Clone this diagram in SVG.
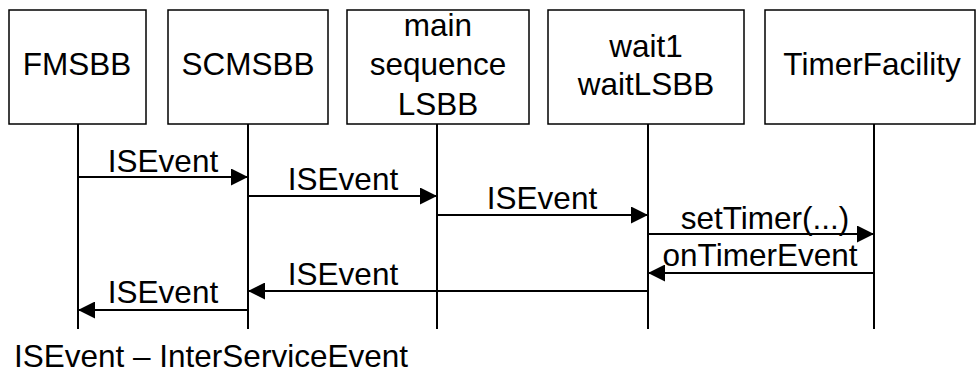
<svg xmlns="http://www.w3.org/2000/svg" width="976" height="379" viewBox="0 0 976 379">
<style>
text{font-family:"Liberation Sans",Arial,sans-serif;font-size:31.5px;fill:#000;text-anchor:middle}
.box{fill:#fff;stroke:#000;stroke-width:1.5}
.life{stroke:#000;stroke-width:2}
.msg{stroke:#000;stroke-width:2;fill:none;marker-end:url(#ah)}
</style>
<defs>
<marker id="ah" viewBox="0 0 17 17" refX="17" refY="8.5" markerWidth="17" markerHeight="17" markerUnits="userSpaceOnUse" orient="auto">
<path d="M0,0 L17,8.5 L0,17 Z" fill="#000"/>
</marker>
</defs>
<rect width="976" height="379" fill="#fff"/>
<g id="FMSBB">
<rect class="box" x="9" y="10" width="137" height="114"/>
<line class="life" x1="78" y1="124" x2="78" y2="329"/>
<text x="77" y="75">FMSBB</text>
</g>
<g id="SCMSBB">
<rect class="box" x="168" y="10" width="160" height="114"/>
<line class="life" x1="248" y1="124" x2="248" y2="329"/>
<text x="248" y="75">SCMSBB</text>
</g>
<g id="mainsequence">
<rect class="box" x="347" y="10" width="182" height="114"/>
<line class="life" x1="437" y1="124" x2="437" y2="329"/>
<text x="438" y="36">main</text>
<text x="438" y="75">sequence</text>
<text x="438" y="115">LSBB</text>
</g>
<g id="wait1">
<rect class="box" x="548" y="10" width="196" height="114"/>
<line class="life" x1="648" y1="124" x2="648" y2="329"/>
<text x="646" y="57">wait1</text>
<text x="646" y="95">waitLSBB</text>
</g>
<g id="TimerFacility">
<rect class="box" x="765" y="10" width="210" height="114"/>
<line class="life" x1="874" y1="124" x2="874" y2="329"/>
<text x="872" y="75">TimerFacility</text>
</g>
<g id="connectors">
<line class="msg" x1="78" y1="177" x2="248" y2="177"/>
<text x="163" y="172">ISEvent</text>
<line class="msg" x1="248" y1="196" x2="437" y2="196"/>
<text x="343" y="190">ISEvent</text>
<line class="msg" x1="437" y1="215" x2="648" y2="215"/>
<text x="542" y="209">ISEvent</text>
<line class="msg" x1="648" y1="234" x2="874" y2="234"/>
<text x="765" y="229">setTimer(...)</text>
<line class="msg" x1="874" y1="273" x2="648" y2="273"/>
<text x="760" y="266">onTimerEvent</text>
<line class="msg" x1="648" y1="291" x2="248" y2="291"/>
<text x="343" y="285">ISEvent</text>
<line class="msg" x1="248" y1="310" x2="78" y2="310"/>
<text x="163" y="303">ISEvent</text>
</g>
<text x="14" y="367" style="text-anchor:start">ISEvent – InterServiceEvent</text>
</svg>
